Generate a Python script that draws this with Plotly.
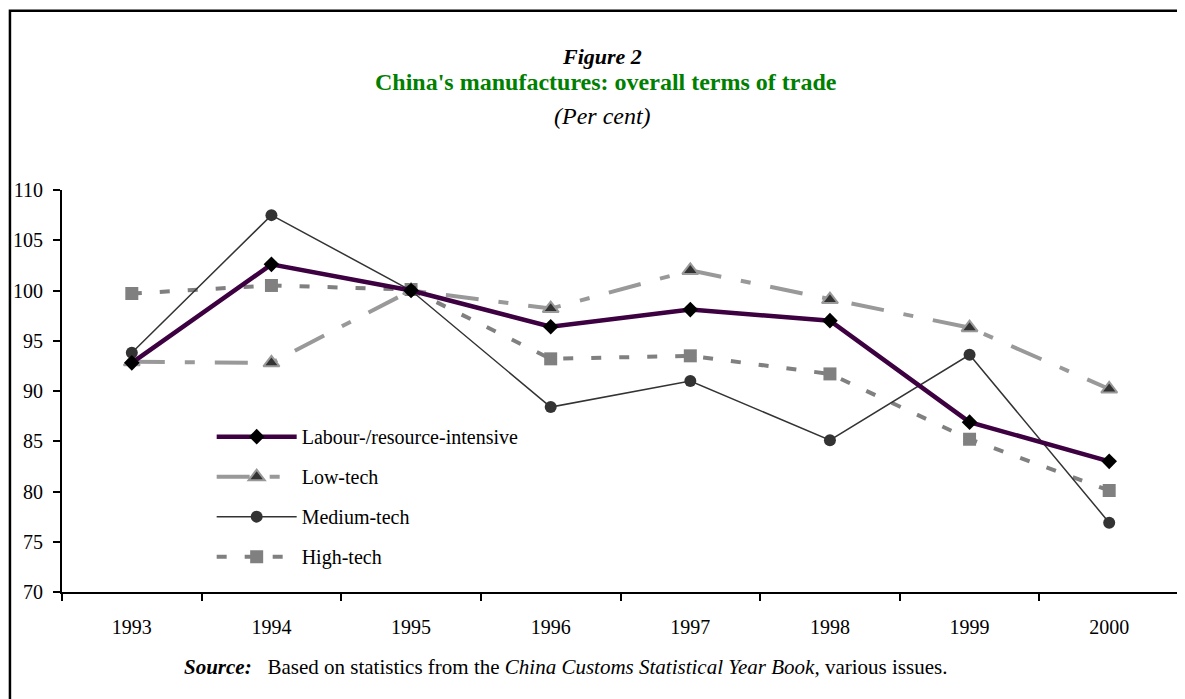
import plotly.graph_objects as go

years = ["1993", "1994", "1995", "1996", "1997", "1998", "1999", "2000"]
labour = [92.8, 102.6, 100.0, 96.4, 98.1, 97.0, 86.9, 83.0]
low_tech = [92.9, 92.8, 100.0, 98.2, 102.0, 99.1, 96.3, 90.2]
medium_tech = [93.8, 107.5, 100.0, 88.4, 91.0, 85.1, 93.6, 76.9]
high_tech = [99.7, 100.5, 100.1, 93.2, 93.5, 91.7, 85.2, 80.1]

serif = "Liberation Serif, Times New Roman, serif"

fig = go.Figure()

fig.add_trace(go.Scatter(
    x=years, y=high_tech, name="High-tech", mode="lines+markers",
    legendgroup="d", legendrank=4,
    line=dict(color="#808080", width=4, dash="10px,18px"),
    marker=dict(symbol="square", size=13, color="#808080"),
))
fig.add_trace(go.Scatter(
    x=years, y=low_tech, name="Low-tech", mode="lines+markers",
    legendgroup="b", legendrank=2,
    line=dict(color="#999999", width=4, dash="33px,20px,10px,20px"),
    marker=dict(symbol="triangle-up", size=14, color="#333333",
                line=dict(color="#999999", width=2)),
))
fig.add_trace(go.Scatter(
    x=years, y=medium_tech, name="Medium-tech", mode="lines+markers",
    legendgroup="c", legendrank=3,
    line=dict(color="#333333", width=1.5),
    marker=dict(symbol="circle", size=12, color="#333333"),
))
fig.add_trace(go.Scatter(
    x=years, y=labour, name="Labour-/resource-intensive", mode="lines+markers",
    legendgroup="a", legendrank=1,
    line=dict(color="#3d0040", width=4.5),
    marker=dict(symbol="diamond", size=12, color="#000000"),
))

# the page adds an 8px body margin, so the figure is sized to fit inside it
fig.update_layout(
    width=1177, height=691,
    margin=dict(l=54, r=6, t=182, b=107),
    paper_bgcolor="white", plot_bgcolor="white",
    font=dict(family=serif, size=20, color="black"),
    showlegend=True,
    legend=dict(x=0.134, y=0.435, xanchor="left", yanchor="top",
                bgcolor="rgba(0,0,0,0)", traceorder="grouped",
                tracegroupgap=11, itemwidth=80,
                font=dict(family=serif, size=20)),
    xaxis=dict(
        type="category", range=[-0.5, 7.5], tickson="boundaries",
        showline=True, linecolor="black", linewidth=2,
        ticks="outside", ticklen=7, tickcolor="black", tickwidth=1.5,
        showgrid=False, zeroline=False,
        tickfont=dict(family=serif, size=20), ticklabelstandoff=16,
    ),
    yaxis=dict(
        range=[70, 110], tickvals=list(range(70, 111, 5)),
        showline=True, linecolor="black", linewidth=2,
        ticks="outside", ticklen=7, tickcolor="black", tickwidth=2,
        showgrid=False, zeroline=False,
        tickfont=dict(family=serif, size=20), ticklabelstandoff=6,
    ),
    shapes=[dict(type="rect", xref="paper", yref="paper",
                 x0=-0.0466, x1=1.2, y0=-0.5, y1=1.446,
                 line=dict(color="black", width=2.5), fillcolor="rgba(0,0,0,0)",
                 layer="below")],
    annotations=[
        dict(text="<b><i>Figure 2</i></b>", xref="paper", yref="paper",
             x=0.483, y=1.333, yanchor="middle", showarrow=False,
             borderpad=0, font=dict(size=22)),
        dict(text="<b>China's manufactures: overall terms of trade</b>",
             xref="paper", yref="paper", x=0.487, y=1.268, yanchor="middle",
             showarrow=False, borderpad=0, font=dict(size=24, color="#008000")),
        dict(text="<i>(Per cent)</i>", xref="paper", yref="paper",
             x=0.484, y=1.184, yanchor="middle", showarrow=False,
             font=dict(size=24)),
        dict(text="<b><i>Source:</i></b>&nbsp;&nbsp;&nbsp;Based on statistics from the "
                  "<i>China Customs Statistical Year Book,</i> various issues.",
             xref="paper", yref="paper", x=0.107, y=-0.187, xanchor="left",
             yanchor="middle", showarrow=False, font=dict(size=21)),
    ],
)

fig.write_html("out.html")
